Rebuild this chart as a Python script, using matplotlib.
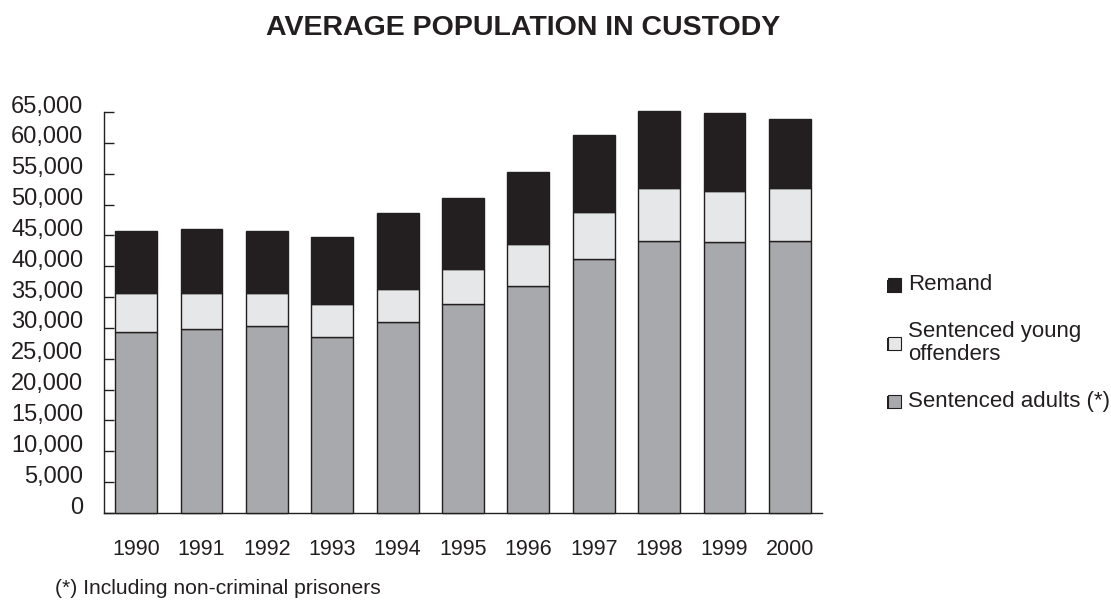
import matplotlib
matplotlib.use("Agg")
import matplotlib.pyplot as plt
from matplotlib.patches import Rectangle
from matplotlib.transforms import ScaledTranslation
import numpy as np

plt.rcParams['font.family'] = ['Liberation Sans', 'DejaVu Sans']

years = ["1990", "1991", "1992", "1993", "1994", "1995", "1996", "1997", "1998", "1999", "2000"]
sentenced_adults = [29400, 29900, 30300, 28600, 31000, 33900, 36850, 41150, 44100, 43900, 44100]
sentenced_young = [6300, 5800, 5400, 5300, 5300, 5600, 6700, 7600, 8500, 8300, 8500]
remand = [10000, 10300, 10000, 10800, 12400, 11500, 11750, 12450, 12600, 12600, 11300]
yticks = list(range(0, 65001, 5000))

INK = "#231F20"
C_REMAND = "#231F20"
C_YOUNG = "#E6E7E8"
C_ADULT = "#A7A9AC"

fig = plt.figure(figsize=(11.11, 6.0), dpi=100)
ax = fig.add_axes([104/1111, 1-513/600, (822-104)/1111, (513-112)/600])

x = np.arange(len(years))
w = 0.64
a = np.array(sentenced_adults)
yv = np.array(sentenced_young)
r = np.array(remand)
kw = dict(width=w, edgecolor=INK, linewidth=1.0, clip_on=False, zorder=3)
ax.bar(x, a, color=C_ADULT, **kw)
ax.bar(x, yv, bottom=a, color=C_YOUNG, **kw)
ax.bar(x, r, bottom=a + yv, color=C_REMAND, **kw)

ax.set_xlim(-0.49, len(years) - 1 + 0.49)
ax.set_ylim(0, 65000)
ax.set_yticks(yticks)
ax.set_yticklabels([f"{v:,}" for v in yticks], fontsize=17, color=INK)
ax.set_xticks(x)
ax.set_xticklabels(years, fontsize=15.5, color=INK)
ax.tick_params(axis='y', direction='in', length=7, width=1, color=INK, pad=15)
ax.tick_params(axis='x', length=0, pad=19)
for s in ['top', 'right']:
    ax.spines[s].set_visible(False)
for s in ['left', 'bottom']:
    ax.spines[s].set_color(INK)
    ax.spines[s].set_linewidth(1.0)
off = ScaledTranslation(0, 8/100, fig.dpi_scale_trans)
for lab in ax.get_yticklabels():
    lab.set_transform(lab.get_transform() + off)

fig.text(523/1111, 1-28/600, "AVERAGE POPULATION IN CUSTODY", ha='center', va='center',
         fontsize=20.5, fontweight='bold', color=INK)
fig.text(55/1111, 1-589/600, "(*) Including non-criminal prisoners", ha='left', va='center',
         fontsize=15.2, color=INK)

# legend (manual)
legend_items = [("Remand", C_REMAND, 285), ("Sentenced young\noffenders", C_YOUNG, 343),
                ("Sentenced adults (*)", C_ADULT, 401)]
sq = 13
for label, col, yc in legend_items:
    x0 = 888
    y0 = yc - sq/2
    fig.patches.append(Rectangle(((x0-1.5)/1111, 1-(y0+sq+1.5)/600), sq/1111, sq/600,
                                 transform=fig.transFigure, facecolor=INK, edgecolor='none'))
    fig.patches.append(Rectangle((x0/1111, 1-(y0+sq)/600), sq/1111, sq/600,
                                 transform=fig.transFigure, facecolor=col, edgecolor=INK, linewidth=0.8))
    fig.text(908/1111, 1-yc/600, label, ha='left', va='center', fontsize=16, color=INK,
             linespacing=1.15)

fig.savefig("out.png", dpi=100)
